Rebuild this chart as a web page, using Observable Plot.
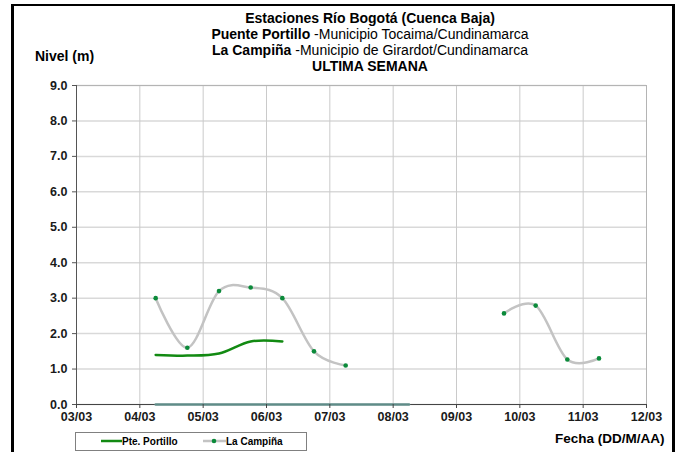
<!DOCTYPE html>
<html><head><meta charset="utf-8">
<script src="https://cdn.jsdelivr.net/npm/d3@7"></script>
<script src="https://cdn.jsdelivr.net/npm/@observablehq/plot@0.6"></script>
<style>
body{margin:0;background:#fff;font-family:"Liberation Sans",Arial,sans-serif;}
#wrap{position:relative;width:684px;height:452px;overflow:hidden;background:#fff;}
#border{position:absolute;left:11px;top:4px;width:658px;height:460px;border-left:3px solid #000;border-top:2px solid #000;border-right:3px solid #000;}
#chart{position:absolute;left:0;top:0;}
.t{position:absolute;left:0;width:740px;text-align:center;font-size:14px;color:#000;line-height:16px;white-space:nowrap;}
.b{font-weight:bold;}
#ylab{position:absolute;left:35px;top:48px;font-size:14px;font-weight:bold;}
#xlab{position:absolute;left:555px;top:431px;font-size:13.5px;font-weight:bold;}
#legend{position:absolute;left:75px;top:432px;width:230px;height:17px;border:1px solid #808080;font-size:10px;font-weight:bold;}
.li{position:absolute;top:2px;display:flex;align-items:center;}
</style></head><body>
<div id="wrap">
  <div id="chart"></div>
  <div id="border"></div>
  <div class="t b" style="top:10px">Estaciones Río Bogotá (Cuenca Baja)</div>
  <div class="t" style="top:26px"><span class="b">Puente Portillo </span>-Municipio Tocaima/Cundinamarca</div>
  <div class="t" style="top:42px"><span class="b">La Campiña </span>-Municipio de Girardot/Cundinamarca</div>
  <div class="t b" style="top:58px">ULTIMA SEMANA</div>
  <div id="ylab">Nivel (m)</div>
  <div id="xlab">Fecha (DD/M/AA)</div>
  <div id="legend">
    <div class="li" style="left:25px"><svg width="21" height="12"><line x1="0" x2="21" y1="6" y2="6" stroke="#128a12" stroke-width="2.5"/></svg><span>Pte. Portillo</span></div>
    <div class="li" style="left:127px"><svg width="23" height="12"><line x1="0" x2="23" y1="6" y2="6" stroke="#c3c3c3" stroke-width="2.5"/><circle cx="11" cy="6" r="2.3" fill="#0b8a3a"/></svg><span>La Campiña</span></div>
  </div>
</div>
<script>
// Tick labels
const xTickLabels = ["03/03","04/03","05/03","06/03","07/03","08/03","09/03","10/03","11/03","12/03"];
const yTickValues = [0,1,2,3,4,5,6,7,8,9];

// La Campiña (every 12 h; null = no data)
const campinaTimes = ["04/03 06:00","04/03 18:00","05/03 06:00","05/03 18:00","06/03 06:00","06/03 18:00","07/03 06:00","07/03 18:00","08/03 06:00","08/03 18:00","09/03 06:00","09/03 18:00","10/03 06:00","10/03 18:00","11/03 06:00"];
const campinaValues = [3.0,1.6,3.2,3.3,3.0,1.5,1.1,null,null,null,null,2.57,2.79,1.27,1.30];

// Pte. Portillo
const portilloTimes = ["04/03 06:00","04/03 18:00","05/03 06:00","05/03 18:00","06/03 06:00"];
const portilloValues = [1.40,1.38,1.44,1.78,1.78];

// third (unlabelled) series at zero
const zeroTimes = ["04/03 06:00","04/03 18:00","05/03 06:00","05/03 18:00","06/03 06:00","06/03 18:00","07/03 06:00","07/03 18:00","08/03 06:00"];
const zeroValues = [0,0,0,0,0,0,0,0,0];

const parseT = d3.utcParse("%d/%m %H:%M");
const parseD = d3.utcParse("%d/%m");
const xTicks = xTickLabels.map(parseD);
const campina = campinaTimes.map((t,i)=>({t:parseT(t), v:campinaValues[i]}));
const portillo = portilloTimes.map((t,i)=>({t:parseT(t), v:portilloValues[i]}));
const zero = zeroTimes.map((t,i)=>({t:parseT(t), v:zeroValues[i]}));

const chart = Plot.plot({
  width:684, height:452,
  marginLeft:76, marginRight:38, marginTop:85, marginBottom:48,
  style:{fontFamily:"'Liberation Sans', Arial, sans-serif", background:"transparent"},
  x:{type:"utc", domain:[xTicks[0], xTicks[xTicks.length-1]]},
  y:{domain:[0,9]},
  marks:[
    Plot.gridY(yTickValues,{stroke:"#d9d9d9", strokeOpacity:1, strokeWidth:1.5}),
    Plot.gridX(xTicks,{stroke:"#cacaca", strokeOpacity:1}),
    Plot.frame({stroke:"#b4b4b4"}),
    Plot.ruleX([xTicks[0]],{stroke:"#555"}),
    Plot.ruleY([0],{stroke:"#444"}),
    Plot.line(zero,{x:"t", y:"v", stroke:"#5f8c88", strokeWidth:2.5}),
    Plot.line(portillo,{x:"t", y:"v", curve:"cardinal", stroke:"#128a12", strokeWidth:2.5}),
    Plot.line(campina,{x:"t", y:"v", curve:"cardinal", stroke:"#c3c3c3", strokeWidth:2.5}),
    Plot.dot(campina.filter(d=>d.v!=null),{x:"t", y:"v", r:2.3, fill:"#0b8a3a"}),
    Plot.axisY(yTickValues,{tickFormat:d=>d.toFixed(1), tickSize:4, tickPadding:5, fontSize:12.5, fontWeight:"bold", fill:"#1a1a1a", stroke:"#555", label:null}),
    Plot.axisX(xTicks,{tickFormat:d3.utcFormat("%d/%m"), tickSize:4, tickPadding:4, fontSize:12.5, fontWeight:"bold", fill:"#1a1a1a", stroke:"#444", label:null})
  ]
});
document.getElementById("chart").appendChild(chart);
</script>
</body></html>
